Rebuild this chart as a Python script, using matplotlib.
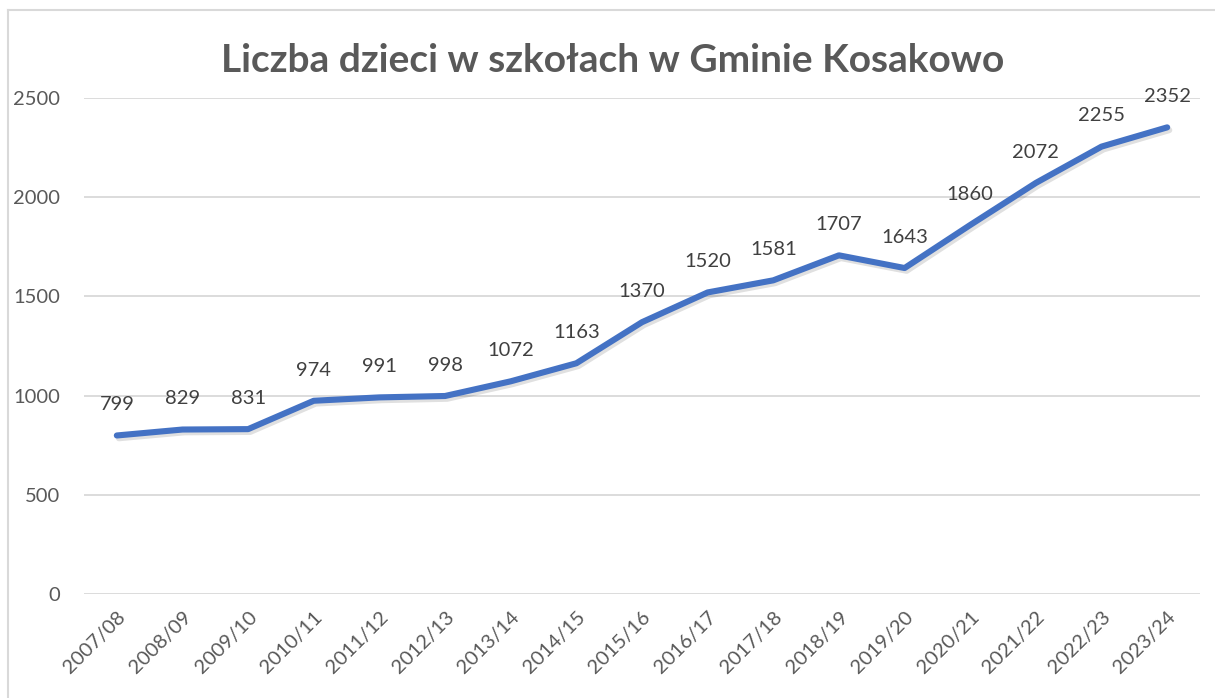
import matplotlib
matplotlib.use("Agg")
from matplotlib import pyplot as plt
from matplotlib import patheffects as pe
from matplotlib.lines import Line2D

# data
years = ["2007/08", "2008/09", "2009/10", "2010/11", "2011/12", "2012/13",
         "2013/14", "2014/15", "2015/16", "2016/17", "2017/18", "2018/19",
         "2019/20", "2020/21", "2021/22", "2022/23", "2023/24"]
children = [799, 829, 831, 974, 991, 998, 1072, 1163, 1370, 1520, 1581,
            1707, 1643, 1860, 2072, 2255, 2352]
y_ticks = [0, 500, 1000, 1500, 2000, 2500]

plt.rcParams['font.family'] = ['Lato', 'DejaVu Sans']
text_col = '#595959'
W, H = 1215, 698

fig = plt.figure(figsize=(W / 100, H / 100), dpi=100)
ax = fig.add_axes([84 / W, 1 - 594 / H, (1200 - 84) / W, (594 - 98) / H])

x = range(len(years))
ax.plot(x, children, color='#4472C4', lw=4.4, solid_capstyle='round',
        solid_joinstyle='round', zorder=3,
        path_effects=[pe.SimpleLineShadow(offset=(1.5, -2), alpha=0.12, shadow_color='black'),
                      pe.Normal()])

for i, v in enumerate(children):
    ax.annotate(str(v), (i, v), xytext=(0, 16), textcoords='offset points',
                ha='center', va='bottom', fontsize=14.5, color='#404040')

ax.set_xlim(-0.5, len(years) - 0.5)
ax.set_ylim(0, 2500)
ax.set_yticks(y_ticks)
ax.set_yticklabels([str(t) for t in y_ticks], fontsize=14.5, color=text_col)
ax.set_xticks(list(x))
ax.set_xticklabels(years, fontsize=14.5, color=text_col, rotation=45,
                   ha='right', rotation_mode='anchor')
ax.tick_params(axis='both', length=0)
ax.tick_params(axis='y', pad=17)
ax.tick_params(axis='x', pad=10)
ax.grid(axis='y', color='#d9d9d9', lw=1.3)
ax.set_axisbelow(True)
for s in ax.spines.values():
    s.set_visible(False)

fig.text(613 / W, 1 - 60 / H, "Liczba dzieci w szkołach w Gminie Kosakowo",
         ha='center', va='center', fontsize=28, fontweight='bold', color=text_col)

# outer chart frame (only top and left visible)
fig.add_artist(Line2D([8 / W, 8 / W], [0, 1 - 10 / H], transform=fig.transFigure,
                      color='#d9d9d9', lw=1.5))
fig.add_artist(Line2D([8 / W, 1], [1 - 10 / H, 1 - 10 / H], transform=fig.transFigure,
                      color='#d9d9d9', lw=1.5))

plt.savefig('out.png', dpi=100)
